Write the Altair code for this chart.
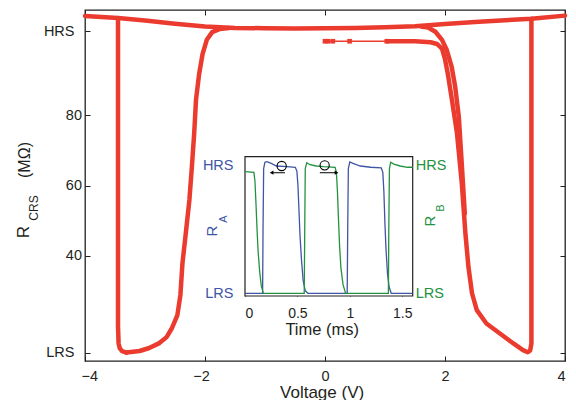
import altair as alt
import pandas as pd

RED = "#EB3B2F"
BLUE = "#3F55A5"
GREEN = "#23923F"
INK = "#231F20"
FONT = "Liberation Sans"

# ---------------- main R_CRS(V) curve ----------------
top_v = [-4.0, -3.45, -3.0, -2.5, -2.0, -1.5, -1.0, -0.5, 0.0, 0.5, 1.0, 1.5, 2.0, 2.5, 3.0, 3.44, 4.0]
top_r = [108.3, 107.7, 107.0, 106.1, 105.3, 104.9, 104.8, 104.7, 104.8, 104.9, 105.1, 105.4, 106.0, 106.6, 107.1, 107.5, 108.4]

left_drop_v = [-3.45, -3.45, -3.45, -3.44, -3.42, -3.38, -3.31]
left_drop_r = [107.7, 60.0, 20.0, 15.0, 13.6, 12.8, 12.4]

left_u_v = [-3.31, -3.09, -2.93, -2.76, -2.64, -2.55, -2.46, -2.41, -2.375, -2.32, -2.26, -2.22,
            -2.18, -2.15, -2.10, -2.04, -1.97, -1.88, -1.75, -1.6]
left_u_r = [12.4, 12.85, 13.7, 15.1, 16.8, 19.4, 23.1, 28.8, 38.0, 46.4, 55.9, 65.0,
            74.9, 84.4, 91.5, 97.5, 101.5, 103.7, 104.6, 104.9]

start_v = [0.0, 0.05, 0.13, 0.41, 1.03]
start_r = [101.1, 101.1, 101.1, 101.1, 101.1]

right_inner_v = [1.03, 1.5, 1.76, 1.87, 1.95, 2.0, 2.05, 2.11, 2.20, 2.28, 2.34, 2.39, 2.45, 2.53,
                 2.69, 2.91, 3.14, 3.30, 3.38, 3.42, 3.44, 3.44, 3.44]
right_inner_r = [101.1, 101.1, 100.8, 100.3, 99.0, 96.0, 91.5, 85.0, 74.9, 60.6, 46.4, 36.9, 29.3, 24.5,
                 20.7, 17.9, 15.0, 13.1, 12.5, 13.0, 15.0, 60.0, 107.5]

right_outer_v = [1.6, 1.72, 1.84, 1.95, 2.03, 2.11, 2.17, 2.23, 2.28, 2.33]
right_outer_r = [105.3, 105.0, 103.8, 101.5, 98.6, 93.9, 88.1, 79.6, 66.0, 52.0]

main_v_domain = [-4, 4]
main_r_domain = [10, 110]
main_x_ticks = [-4, -2, 0, 2, 4]
main_x_labels = ["\u22124", "\u22122", "0", "2", "4"]
main_y_ticks = [12.3, 40, 60, 80, 104]
main_y_labels = ["LRS", "40", "60", "80", "HRS"]

# ---------------- inset: R_A and R_B vs time ----------------
blue_t = [0, 0.168, 0.172, 0.178, 0.19, 0.21, 0.25, 0.30, 0.40, 0.48, 0.495, 0.505, 0.515, 0.525,
          0.54, 0.555, 0.575, 0.60, 0.975, 0.980, 0.986, 1.0, 1.03, 1.1, 1.2, 1.30, 1.315, 1.325,
          1.335, 1.345, 1.36, 1.375, 1.395, 1.6]
blue_v = [0, 0, 0.5, 0.98, 1.03, 1.034, 1.02, 1.0, 0.995, 0.99, 0.96, 0.85, 0.65, 0.45,
          0.25, 0.1, 0.02, 0, 0, 0.5, 0.98, 1.032, 1.02, 1.0, 0.99, 0.985, 0.95, 0.8,
          0.55, 0.35, 0.15, 0.05, 0, 0]

green_t = [0, 0.085, 0.095, 0.105, 0.115, 0.125, 0.14, 0.155, 0.175, 0.565, 0.570, 0.575, 0.59,
           0.62, 0.68, 0.75, 0.86, 0.872, 0.882, 0.892, 0.902, 0.915, 0.935, 0.96, 1.368, 1.372,
           1.378, 1.39, 1.42, 1.48, 1.55, 1.6]
green_v = [0.955, 0.95, 0.88, 0.7, 0.5, 0.33, 0.17, 0.06, 0, 0, 0.5, 0.98, 1.026,
           1.01, 1.0, 0.995, 0.99, 0.95, 0.8, 0.58, 0.38, 0.2, 0.07, 0, 0, 0.5,
           0.98, 1.03, 1.015, 1.0, 0.99, 0.99]

inset_t_domain = [0, 1.6]
inset_v_domain = [-0.021, 1.073]
inset_x_ticks = [0, 0.5, 1, 1.5]
inset_x_labels = ["0", "0.5", "1", "1.5"]
inset_y_ticks = [0, 1]
inset_y_labels = ["LRS", "HRS"]

circle_t = [0.35, 0.76]
circle_v = [1.0, 1.005]
arrow_left = [0.381, 0.254, 0.947]   # from, to, level
arrow_right = [0.714, 0.873, 0.947]

# ---------------- tables ----------------
rows = []
for name, vs, rs in [("top", top_v, top_r), ("ldrop", left_drop_v, left_drop_r),
                     ("lu", left_u_v, left_u_r), ("rin", right_inner_v, right_inner_r),
                     ("rout", right_outer_v, right_outer_r)]:
    for i, (v, r) in enumerate(zip(vs, rs)):
        rows.append({"seg": name, "i": i, "V": v, "R": r})
main_df = pd.DataFrame(rows)
start_df = pd.DataFrame({"V": start_v, "R": start_r})
blue_df = pd.DataFrame({"t": blue_t, "v": blue_v})
green_df = pd.DataFrame({"t": green_t, "v": green_v})
frame_df = pd.DataFrame({"t0": [inset_t_domain[0]], "t1": [inset_t_domain[1]],
                         "v0": [inset_v_domain[0]], "v1": [inset_v_domain[1]]})
circ_df = pd.DataFrame({"t": circle_t, "v": circle_v})
arr_l_df = pd.DataFrame({"a": [arrow_left[0]], "b": [arrow_left[1]], "v": [arrow_left[2]]})
arr_r_df = pd.DataFrame({"a": [arrow_right[0]], "b": [arrow_right[1]], "v": [arrow_right[2]]})
one = pd.DataFrame({"k": [0]})


def label_expr(values, labels):
    expr = "''"
    for v, l in zip(values, labels):
        expr = f"abs(datum.value - ({v})) < 1e-6 ? '{l}' : " + expr
    return expr


W, H = 480, 351
INSET_X_RANGE = [160, 327.7]
INSET_Y_RANGE = [286, 146.7]
INSET_BOTTOM_OFF = -(H - INSET_Y_RANGE[0])
INSET_LEFT_OFF = -INSET_X_RANGE[0]
INSET_RIGHT_OFF = -(W - INSET_X_RANGE[1])

mx_scale = alt.Scale(domain=main_v_domain, nice=False, zero=False)
my_scale = alt.Scale(domain=main_r_domain, nice=False, zero=False)
ix_scale = alt.Scale(domain=inset_t_domain, range=INSET_X_RANGE, nice=False, zero=False)
iy_scale = alt.Scale(domain=inset_v_domain, range=INSET_Y_RANGE, nice=False, zero=False)


def MX(field, axis=None):
    return alt.X(field, type="quantitative", scale=mx_scale, axis=axis)


def MY(field, axis=None):
    return alt.Y(field, type="quantitative", scale=my_scale, axis=axis)


def IX(field, axis=None):
    return alt.X(field, type="quantitative", scale=ix_scale, axis=axis)


def IY(field, axis=None):
    return alt.Y(field, type="quantitative", scale=iy_scale, axis=axis)


# main red curve with labelled axes
main_line = alt.Chart(main_df).mark_line(
    color=RED, strokeWidth=4.5, strokeCap="round", strokeJoin="round"
).encode(
    x=MX("V", alt.Axis(orient="bottom", values=main_x_ticks,
                       labelExpr=label_expr(main_x_ticks, main_x_labels),
                       labelOffset={"condition": {"test": "datum.value < 0", "value": -4}, "value": 0},
                       ticks=False, tickSize=0, domain=False, grid=False,
                       labelPadding=8, labelFontSize=14.5, labelColor=INK,
                       title="Voltage (V)", titleFontSize=17, titleFontWeight="normal",
                       titleColor=INK, titleX=236.6, titleY=36, titleAlign="center",
                       titleBaseline="alphabetic")),
    y=MY("R", alt.Axis(orient="left", values=main_y_ticks,
                       labelExpr=label_expr(main_y_ticks, main_y_labels),
                       labelPadding={"condition": {"test": "datum.value > 100 || datum.value < 20",
                                                   "value": 11}, "value": 3.5},
                       ticks=False, tickSize=0, domain=False, grid=False,
                       labelFontSize=14.5, labelColor=INK, title=None)),
    detail="seg:N",
    order="i:Q",
)

# inward ticks, bottom/left
ticks_bl = alt.Chart(start_df).mark_point(opacity=0).encode(
    x=MX("V", alt.Axis(orient="bottom", values=main_x_ticks, offset=-5, tickSize=5,
                       tickColor=INK, tickWidth=1, labels=False, domain=False,
                       grid=False, title=None)),
    y=MY("R", alt.Axis(orient="left", values=main_y_ticks, offset=-5, tickSize=5,
                       tickColor=INK, tickWidth=1, labels=False, domain=False,
                       grid=False, title=None)),
)
# inward ticks, top/right
ticks_tr = alt.Chart(start_df).mark_point(opacity=0).encode(
    x=MX("V", alt.Axis(orient="top", values=main_x_ticks, offset=-5, tickSize=5,
                       tickColor=INK, tickWidth=1, labels=False, domain=False,
                       grid=False, title=None)),
    y=MY("R", alt.Axis(orient="right", values=main_y_ticks, offset=-5, tickSize=5,
                       tickColor=INK, tickWidth=1, labels=False, domain=False,
                       grid=False, title=None)),
)

start_line = alt.Chart(start_df).mark_line(color=RED, strokeWidth=1.3).encode(
    x=MX("V"), y=MY("R"))
start_pts = alt.Chart(start_df).mark_square(color=RED, size=22, opacity=1).encode(
    x=MX("V"), y=MY("R"))

# inset frame with inward bottom ticks
frame = alt.Chart(frame_df).mark_rect(fill="white", stroke=INK, strokeWidth=1.2).encode(
    x=IX("t0", alt.Axis(orient="bottom", values=inset_x_ticks, offset=INSET_BOTTOM_OFF - 3,
                        tickSize=3, tickColor=INK, labels=False, domain=False,
                        grid=False, title=None)),
    x2="t1",
    y=IY("v0"),
    y2="v1",
)

blue_line = alt.Chart(blue_df).mark_line(color=BLUE, strokeWidth=1.3).encode(
    x=IX("t", alt.Axis(orient="bottom", values=inset_x_ticks,
                       labelExpr=label_expr(inset_x_ticks, inset_x_labels),
                       offset=INSET_BOTTOM_OFF, ticks=False, tickSize=0, domain=False,
                       grid=False, labelPadding=10, labelFontSize=14, labelColor=INK,
                       title="Time (ms)", titleFontSize=16.5, titleFontWeight="normal",
                       titleColor=INK, titleX=236.7, titleY=38, titleAlign="center",
                       titleBaseline="alphabetic")),
    y=IY("v", alt.Axis(orient="left", values=inset_y_ticks,
                       labelExpr=label_expr(inset_y_ticks, inset_y_labels),
                       offset=INSET_LEFT_OFF, ticks=False, tickSize=0, domain=False,
                       grid=False, labelPadding=12, labelFontSize=14.5, labelColor=BLUE,
                       title=None)),
)

green_line = alt.Chart(green_df).mark_line(color=GREEN, strokeWidth=1.3).encode(
    x=IX("t"),
    y=IY("v", alt.Axis(orient="right", values=inset_y_ticks,
                       labelExpr=label_expr(inset_y_ticks, inset_y_labels),
                       offset=INSET_RIGHT_OFF, ticks=False, tickSize=0, domain=False,
                       grid=False, labelPadding=2.5, labelFontSize=14.5, labelColor=GREEN,
                       title=None)),
)

circles = alt.Chart(circ_df).mark_point(shape="circle", filled=False, color="black",
                                        size=85, strokeWidth=1.1, opacity=1).encode(
    x=IX("t"), y=IY("v"))
arr_l = alt.Chart(arr_l_df).mark_rule(color="black", strokeWidth=1).encode(
    x=IX("a"), x2="b", y=IY("v"))
arr_r = alt.Chart(arr_r_df).mark_rule(color="black", strokeWidth=1).encode(
    x=IX("a"), x2="b", y=IY("v"))
head_l = alt.Chart(arr_l_df).mark_point(shape="triangle-left", filled=True, color="black",
                                        size=18, opacity=1).encode(x=IX("b"), y=IY("v"))
head_r = alt.Chart(arr_r_df).mark_point(shape="triangle-right", filled=True, color="black",
                                        size=18, opacity=1).encode(x=IX("b"), y=IY("v"))


def label(text, x, y, size, color):
    return alt.Chart(one).mark_text(text=text, angle=270, align="center", baseline="middle",
                                    fontSize=size, color=color, font=FONT).encode(
        x=alt.value(x), y=alt.value(y))


texts = [
    label("R", -61, 222, 17, INK),
    label("CRS", -51, 198, 12, INK),
    label("(M\u03a9)", -60.5, 150, 16, INK),
    label("R", 127, 221, 15, BLUE),
    label("A", 139, 209, 11, BLUE),
    label("R", 345, 211, 15, GREEN),
    label("B", 356, 198, 11, GREEN),
]

chart = alt.layer(
    main_line, ticks_bl, ticks_tr, start_line, start_pts,
    frame, blue_line, green_line, circles, arr_l, arr_r, head_l, head_r, *texts
).resolve_scale(
    x="independent", y="independent"
).properties(
    width=W, height=H,
    autosize=alt.AutoSizeParams(type="none"),
    padding={"left": 77, "top": 2, "right": 3, "bottom": 40},
).configure_view(
    stroke=INK, strokeWidth=1.3
).configure_axis(
    labelFont=FONT, titleFont=FONT
)

chart.save("out.html", embed_options={"renderer": "svg", "actions": False})
